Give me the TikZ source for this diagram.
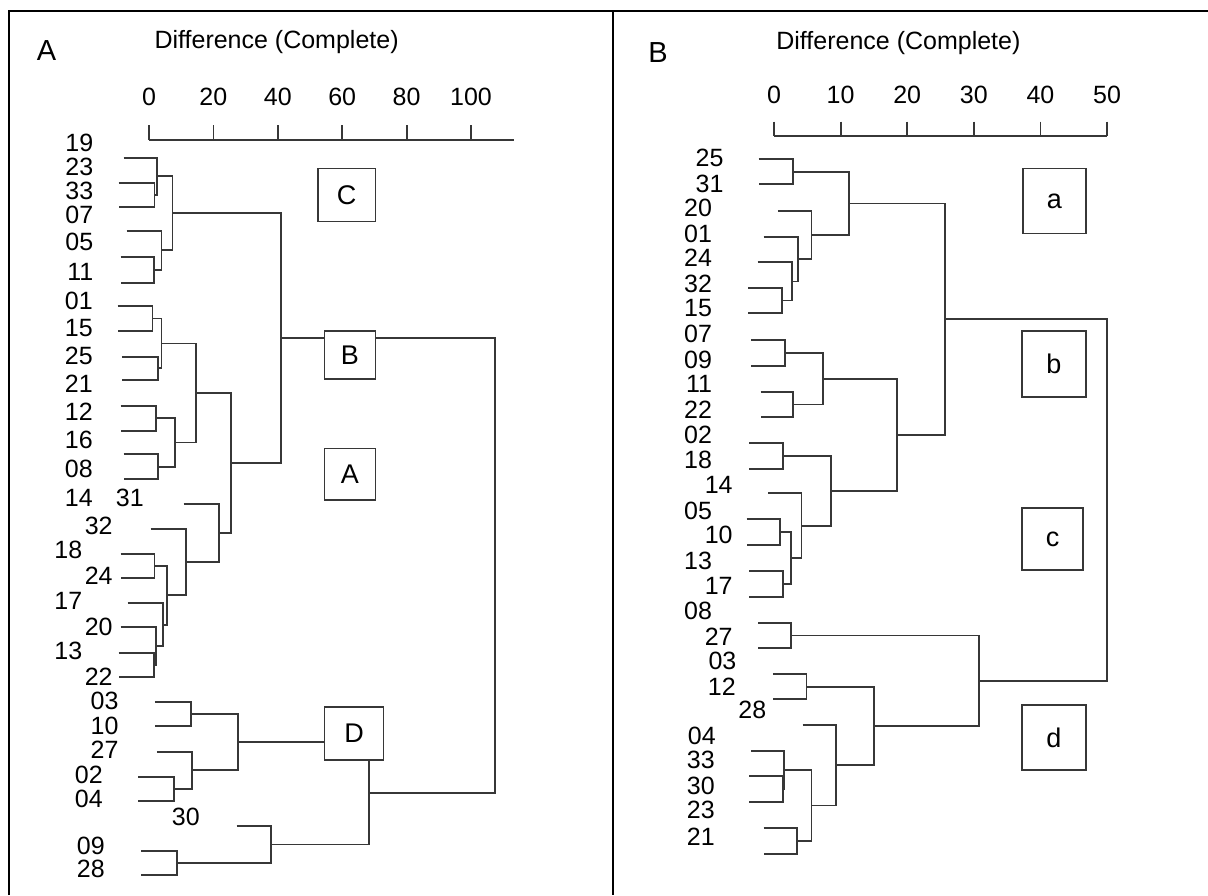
\documentclass[tikz,border=0pt]{standalone}
\usepackage{fontspec}
\setmainfont{Liberation Sans}
\definecolor{treegray}{RGB}{55,55,55}
\tikzstyle{treeline}=[draw=treegray,line width=1.8pt]
\tikzstyle{frameline}=[draw=black,line width=2.2pt]
\tikzstyle{tagbox}=[draw=treegray,line width=1.8pt,fill=white,inner sep=0pt,font=\fontsize{27}{32}\selectfont]
\tikzstyle{leaf}=[anchor=east,inner sep=0pt]
\tikzstyle{panlabel}=[font=\fontsize{29}{34}\selectfont]
% one merge of the dendrogram: upper child, join level, lower child
\newcommand{\dmerge}[5]{\draw[treeline] (#1,#2) -| (#3,#4) -- (#5,#4);}

\begin{document}
\begin{tikzpicture}[x=1pt,y=-1pt,font=\fontsize{25}{30}\selectfont]
  \useasboundingbox (0,0) rectangle (1208,895);
  \draw[frameline] (9,895) -- (9,11) -- (1208,11);
  \draw[frameline] (613,11) -- (613,895);

  % panel A
  \node[panlabel] (panA) at (46.5,51) {A};
  \node[anchor=base] (titleA) at (276.6,48.5) {Difference (Complete)};
  \draw[treeline] (149,140) -- (513.6,140);
  \foreach \v in {0,20,...,100} {
    \draw[treeline] (149+3.22*\v,125) -- (149+3.22*\v,140);
    \node (axA\v) at (149+3.22*\v,97) {\v};
  }
  \foreach \t/\x/\y in {19/93.5/143,23/93.5/167,33/93.5/191,07/93.5/215,05/93.5/242,11/93.5/272,
      01/93/300.5,15/93/328,25/93/356,21/93/384,12/93/412,16/93/440,
      08/93/469,14/93/497.5,31/144/497.5,32/112.8/526,18/82.5/550,24/112.8/576,
      17/82.5/601,20/112.8/626.7,13/82.5/651,22/112.8/677,03/118.7/701.3,10/118.7/726,
      27/118.7/749.7,02/103/775.3,04/103/798.7,30/200/816.7,09/105/846,28/105/869}
    \node[leaf] (la\t) at (\x,\y) {\t};

  \dmerge{118.7}{182.7}{154.5}{206.7}{118.7}
  \dmerge{123.7}{157.7}{156.8}{194.7}{154.5}
  \dmerge{120.6}{256.7}{153.7}{282.7}{120.6}
  \dmerge{126.5}{231}{161.5}{269.7}{153.7}
  \dmerge{156.8}{176.2}{172.4}{250.3}{161.5}
  \dmerge{117.5}{306}{152.5}{331}{117.5}
  \dmerge{121.8}{356.7}{157.6}{380}{121.8}
  \dmerge{152.5}{318.5}{161.5}{368.3}{157.6}
  \dmerge{120.6}{405.7}{155.6}{430.7}{120.6}
  \dmerge{123.7}{454}{157.6}{479.3}{123.7}
  \dmerge{155.6}{418.2}{175}{466.7}{157.6}
  \dmerge{161.5}{343.4}{195.7}{442.4}{175}
  \dmerge{120.6}{554}{154.5}{577.7}{120.6}
  \dmerge{118.7}{652.7}{153.7}{677.3}{118.7}
  \dmerge{120.6}{627.3}{155.6}{665}{153.7}
  \dmerge{127.6}{603.3}{162.6}{646.2}{155.6}
  \dmerge{154.5}{565.8}{167.3}{624.7}{162.6}
  \dmerge{150.6}{529}{185.6}{595.2}{167.3}
  \dmerge{183.7}{504.3}{218.7}{562.1}{185.6}
  \dmerge{195.7}{392.9}{230.7}{533.2}{218.7}
  \dmerge{172.4}{213.3}{281}{463}{230.7}
  \dmerge{154.9}{701.7}{190.7}{725.7}{154.9}
  \dmerge{138}{776.7}{174}{800.7}{138}
  \dmerge{156.8}{751.7}{191.8}{788.7}{174}
  \dmerge{190.7}{713.7}{238}{770.2}{191.8}
  \dmerge{141.2}{850.7}{177}{875}{141.2}
  \dmerge{236.6}{826}{271.2}{862.9}{177}
  \dmerge{238}{742}{368.9}{844.5}{271.2}
  \dmerge{281}{338}{495}{793.3}{368.9}

  \node[tagbox,minimum width=57.5pt,minimum height=53pt] (boxC) at (346.7,195) {C};
  \node[tagbox,minimum width=51pt,minimum height=48.5pt] (boxB) at (350,355) {B};
  \node[tagbox,minimum width=51pt,minimum height=51.8pt] (boxA) at (350,474.3) {A};
  \node[tagbox,minimum width=59pt,minimum height=52.8pt] (boxD) at (354,733.2) {D};

  % panel B
  \node[panlabel] (panB) at (658,53) {B};
  \node[anchor=base] (titleB) at (898.4,49.5) {Difference (Complete)};
  \draw[treeline] (774,136) -- (1107,136);
  \foreach \v in {0,10,...,50} {
    \draw[treeline] (774+6.66*\v,121.7) -- (774+6.66*\v,136);
    \node (axB\v) at (774+6.66*\v,95) {\v};
  }
  \foreach \t/\x/\y in {25/723.7/158,31/723.7/184,20/712.2/208,01/712.2/234,24/712.2/258,
      32/712.2/284,15/712.2/308.5,07/712.2/334,09/712.2/360.3,11/712.2/384.3,22/712.2/410,
      02/712.2/435,18/712.2/460,14/732.8/485,05/712.2/510.5,10/732.8/535,13/712.2/560.5,
      17/732.8/586,08/712.2/610.8,27/732.8/636.7,03/736.6/661.3,12/735.9/687,28/766.4/710.3,
      04/716/736,33/714.9/760,30/714.9/785.5,23/714.9/810.3,21/714.9/836.3}
    \node[leaf] (lb\t) at (\x,\y) {\t};

  \dmerge{758.7}{159.3}{793}{184.3}{758.7}
  \dmerge{748}{287.7}{781.6}{313.3}{748}
  \dmerge{757.6}{262.3}{791.9}{300.5}{781.6}
  \dmerge{763.7}{236.7}{797.6}{281.4}{791.9}
  \dmerge{777.8}{210.7}{811.4}{259.1}{797.6}
  \dmerge{793}{171.8}{849.1}{234.9}{811.4}
  \dmerge{751.1}{340}{784.7}{365.7}{751.1}
  \dmerge{760.6}{391.7}{793}{417.3}{760.6}
  \dmerge{784.7}{352.9}{822.8}{404.5}{793}
  \dmerge{749.2}{443.3}{782.8}{469}{749.2}
  \dmerge{746.5}{519.3}{779.7}{545}{746.5}
  \dmerge{749.2}{571}{782.8}{596.7}{749.2}
  \dmerge{779.7}{532.2}{791.2}{583.9}{782.8}
  \dmerge{768.3}{493.3}{801.5}{558}{791.2}
  \dmerge{782.8}{456.2}{831.2}{525.7}{801.5}
  \dmerge{822.8}{378.7}{897.2}{491}{831.2}
  \dmerge{849.1}{203.4}{944.9}{434.9}{897.2}
  \dmerge{758}{622.7}{791.2}{648.3}{758}
  \dmerge{772.9}{674}{806.4}{699.3}{772.9}
  \dmerge{749.2}{776}{782.8}{801.7}{749.2}
  \dmerge{751.1}{750.7}{784.3}{788.9}{782.8}
  \dmerge{763.7}{828.3}{796.9}{854}{763.7}
  \dmerge{784.3}{769.8}{811.4}{841.2}{796.9}
  \dmerge{802.6}{725}{835.8}{805.5}{811.4}
  \dmerge{806.4}{686.7}{874.3}{765.3}{835.8}
  \dmerge{791.2}{635.5}{978.8}{726}{874.3}
  \dmerge{944.9}{319.2}{1106.6}{680.8}{978.8}

  \node[tagbox,minimum width=63pt,minimum height=65pt] (boxa) at (1054.3,201) {a};
  \node[tagbox,minimum width=64pt,minimum height=66pt] (boxb) at (1053.9,363.8) {b};
  \node[tagbox,minimum width=61.5pt,minimum height=62pt] (boxc) at (1052.5,539.2) {c};
  \node[tagbox,minimum width=64pt,minimum height=65pt] (boxd) at (1053.9,737.7) {d};
\end{tikzpicture}
\end{document}
